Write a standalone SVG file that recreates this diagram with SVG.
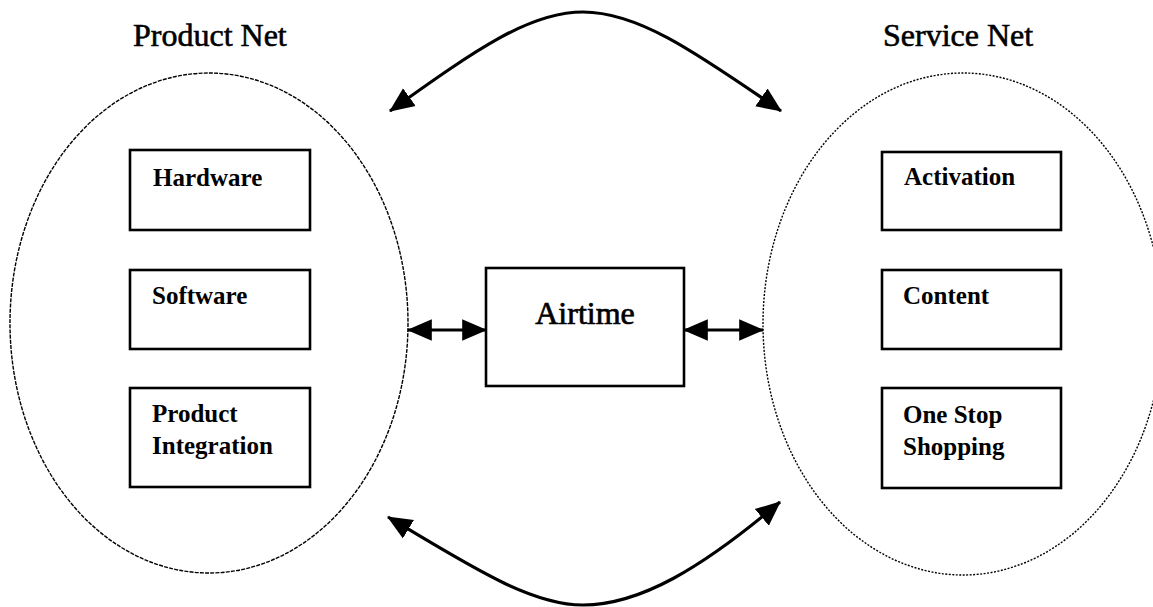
<svg xmlns="http://www.w3.org/2000/svg" width="1153" height="607" viewBox="0 0 1153 607">
  <style>
    .net { fill: none; stroke: #000; stroke-width: 1.4; }
    .box { fill: #fff; stroke: #000; stroke-width: 2.6; }
    .title { font-family: "Liberation Serif", "Times New Roman", serif; font-size: 32px; fill: #000; stroke: #000; stroke-width: 0.6; }
    .lbl { font-family: "Liberation Serif", "Times New Roman", serif; font-size: 25px; font-weight: bold; fill: #000; }
    .hub { font-family: "Liberation Serif", "Times New Roman", serif; font-size: 32px; fill: #000; stroke: #000; stroke-width: 0.7; }
    .link { fill: none; stroke: #000; stroke-width: 3.2; marker-start: url(#head); marker-end: url(#head); }
  </style>
  <defs>
    <marker id="head" markerUnits="userSpaceOnUse" markerWidth="26" markerHeight="24" refX="22" refY="10" orient="auto-start-reverse" viewBox="0 0 24 20">
      <path d="M0,0 L23,10 L0,20 Z" fill="#000"/>
    </marker>
  </defs>

  <rect width="1153" height="607" fill="#fff"/>

  <!-- product side -->
  <g id="product-net">
    <ellipse class="net" cx="209" cy="323" rx="199" ry="250" stroke-dasharray="4 1.2"/>
    <text class="title" x="133" y="46">Product Net</text>
  </g>
  <g id="hardware">
    <rect class="box" x="130" y="150" width="180" height="80"/>
    <text class="lbl" x="153" y="186">Hardware</text>
  </g>
  <g id="software">
    <rect class="box" x="130" y="270" width="180" height="79"/>
    <text class="lbl" x="152" y="304">Software</text>
  </g>
  <g id="product-integration">
    <rect class="box" x="130" y="388" width="180" height="99"/>
    <text class="lbl" x="152" y="422">Product</text>
    <text class="lbl" x="152" y="454">Integration</text>
  </g>

  <!-- service side -->
  <g id="service-net">
    <ellipse class="net" cx="963" cy="324" rx="200" ry="251" stroke-dasharray="2 1.5"/>
    <text class="title" x="883" y="46">Service Net</text>
  </g>
  <g id="activation">
    <rect class="box" x="882" y="152" width="179" height="78"/>
    <text class="lbl" x="904" y="185">Activation</text>
  </g>
  <g id="content">
    <rect class="box" x="882" y="270" width="179" height="79"/>
    <text class="lbl" x="903" y="304">Content</text>
  </g>
  <g id="one-stop-shopping">
    <rect class="box" x="882" y="388" width="179" height="100"/>
    <text class="lbl" x="903" y="423">One Stop</text>
    <text class="lbl" x="903" y="455">Shopping</text>
  </g>

  <!-- centre -->
  <g id="airtime">
    <rect class="box" x="486" y="268" width="198" height="118"/>
    <text class="hub" x="585" y="324" text-anchor="middle">Airtime</text>
  </g>

  <g id="connectors">
    <line class="link" x1="408" y1="330" x2="486" y2="330"/>
    <line class="link" x1="684" y1="330" x2="763" y2="330"/>
    <path class="link" d="M390,111 C478,48 530,12 583,12 C636,12 690,48 781,111"/>
    <path class="link" d="M388,517 C470,566 530,605 583,605 C640,605 702,568 780,502"/>
  </g>
</svg>
